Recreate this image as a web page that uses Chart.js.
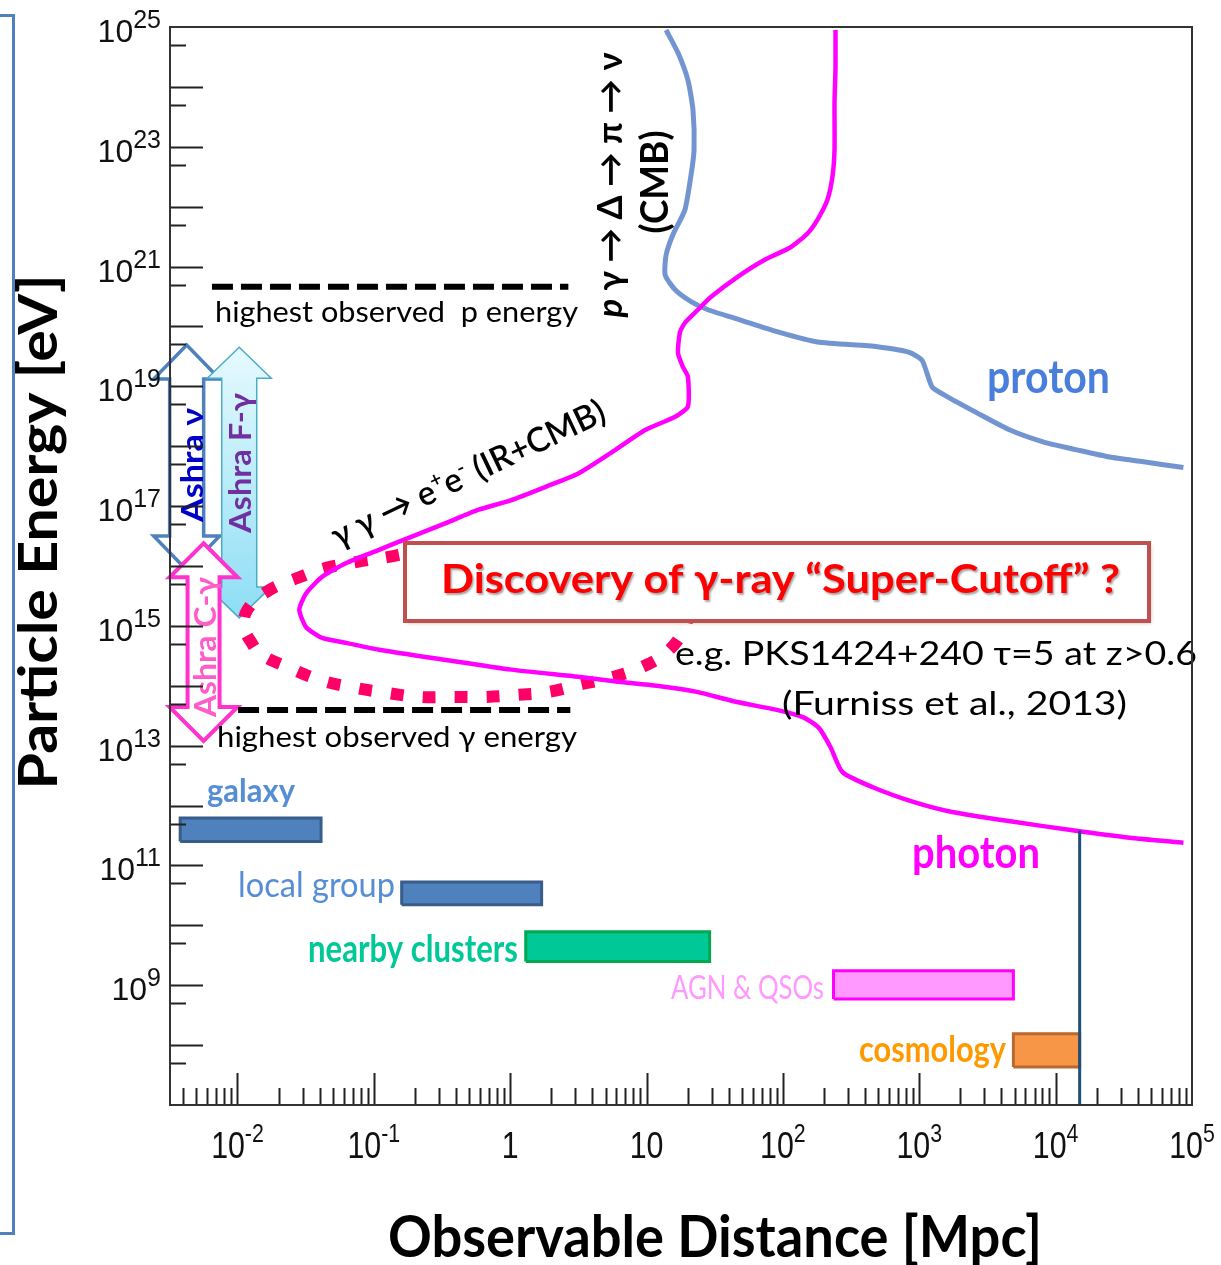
<!DOCTYPE html>
<html>
<head>
<meta charset="utf-8">
<script src="https://cdn.jsdelivr.net/npm/chart.js@4.4.1/dist/chart.umd.min.js"></script>
<style>
html, body { margin: 0; padding: 0; background: #fff; }
canvas { display: block; }
</style>
</head>
<body>
<canvas id="chart" width="1221" height="1265"></canvas>
<script>
// attenuation horizons (distance in Mpc, energy in eV)
const photonDist = [243, 243, 239, 239, 231, 212, 179, 152, 114, 73.6, 46.8, 29.6, 23.8, 19.1, 17.6, 17.0, 18.5, 20.1, 20.1, 16.2,
    9.77, 5.51, 3.16, 1.82, 1.02, 0.587, 0.337, 0.190, 0.109, 0.0627, 0.0418, 0.0319, 0.0284, 0.0319, 0.0418, 0.0627, 0.109, 0.337, 1.02, 3.16,
    6.19, 11.9, 23.4, 45.2, 88.5, 140, 183, 223, 274, 461, 904, 1740, 4790, 12900, 34800, 86500];
const photonEnergy = [8.9e24, 2.1e24, 5.4e23, 8.9e22, 3.2e22, 1.3e22, 6.0e21, 3.6e21, 2.1e21, 1.3e21, 6.8e20, 3.1e20, 1.9e20, 1.15e20, 8.1e19, 3.6e19, 2.1e19, 1.45e19, 4.6e18, 3.1e18,
    1.86e18, 7.8e17, 3.5e17, 2.1e17, 1.26e17, 8.7e16, 5.2e16, 3.1e16, 1.86e16, 1.12e16, 6.6e15, 3.5e15, 1.86e15, 9.5e14, 6.3e14, 5.2e14, 4.0e14, 2.7e14, 1.86e14, 1.41e14,
    1.17e14, 1.0e14, 7.9e13, 5.4e13, 4.0e13, 3.0e13, 2.0e13, 9.5e12, 3.6e12, 2.0e12, 1.15e12, 7.8e11, 5.4e11, 3.9e11, 2.9e11, 2.4e11];

const protonDist = [13.9, 17.0, 20.1, 21.9, 22.3, 21.2, 19.1, 15.6, 13.9, 13.7, 16.2, 21.2, 28.2, 48.3, 91.6, 179, 493, 845, 1050, 1240,
    1520, 2650, 4620, 8200, 14300, 24900, 44100, 86500];
const protonEnergy = [8.9e24, 3.7e24, 1.3e24, 4.1e23, 8.9e22, 3.4e22, 8.8e21, 3.4e21, 1.55e21, 7.2e20, 4.1e20, 2.6e20, 1.9e20, 1.29e20, 8.1e19, 5.5e19, 4.6e19, 3.7e19, 2.7e19, 9.8e18,
    7.2e18, 3.6e18, 1.86e18, 1.17e18, 8.7e17, 6.6e17, 5.5e17, 4.4e17];

// dotted "super-cutoff" loop
const cutoffDist = [0.153, 0.129, 0.0754, 0.0447, 0.0275, 0.0163, 0.0118, 0.0112, 0.0127, 0.0150, 0.0240, 0.0404, 0.0730,
    0.125, 0.218, 0.379, 0.640, 1.09, 1.91, 3.21, 5.42, 8.98, 14.2, 19.1, 20.1];
const cutoffEnergy = [1.53e16, 1.42e16, 1.17e16, 9.3e15, 6.3e15, 3.7e15, 1.85e15, 9.6e14, 5.2e14, 3.3e14, 2.0e14, 1.25e14, 9.2e13,
    7.6e13, 6.5e13, 6.5e13, 6.5e13, 7.0e13, 7.9e13, 1.04e14, 1.36e14, 2.0e14, 3.7e14, 9.3e14, 1.71e15];

// source classes
const barNames = ["galaxy", "local group", "nearby clusters", "AGN & QSOs", "cosmology"];
const barDistMin = [0.0038, 0.16, 1.3, 235, 4900];
const barDistMax = [0.041, 1.7, 29, 4900, 15000];
const barEnergyLow = [2.5e11, 2.2e10, 2.5e9, 5.9e8, 4.3e7];
const barEnergyHigh = [6.2e11, 5.3e10, 7.8e9, 1.74e9, 1.55e8];

// horizon marker
const horizonDist = 15000;
const horizonEnergy = [1e7, 3.8e11];

// highest observed energies
const limitEnergy = [4.6e20, 3.95e13];
const limitDistFrom = [0.0065, 0.0101];
const limitDistTo = [2.67, 2.76];

// Ashra ranges
const arrowNames = ["Ashra ν", "Ashra F-γ", "Ashra C-γ"];
const arrowDist = [0.00424, 0.0103, 0.00564];
const arrowTop = [4.9e19, 4.5e19, 2.4e16];
const arrowBottom = [8.6e15, 1.36e15, 1.2e13];

// tick labels
const yTickExp = [25, 23, 21, 19, 17, 15, 13, 11, 9];
const xTickValue = [0.01, 0.1, 1, 10, 100, 1000, 10000, 100000];
const xTickBase = ["10", "10", "1", "10", "10", "10", "10", "10"];
const xTickExp = ["-2", "-1", "", "", "2", "3", "4", "5"];

const barFill = ["#4F81BD", "#4F81BD", "#00C896", "#FF99FF", "#F79646"];
const barEdge = ["#385D8A", "#385D8A", "#00A850", "#FF00FF", "#B7692F"];

const FAMILY = "Lato, 'Noto Sans', 'DejaVu Sans', sans-serif";
const NUMFONT = "'Liberation Sans', Arial, sans-serif";
const DEG = Math.PI / 180;

function pairs(xs, ys) {
    return xs.map((x, i) => ({ x, y: ys[i] }));
}

function line(data, style) {
    return Object.assign({ data, showLine: true, pointRadius: 0, pointHoverRadius: 0, fill: false, tension: 0 }, style);
}

const datasets = [
    line(pairs(photonDist, photonEnergy), { label: "photon", borderColor: "#FF00FF", borderWidth: 4.5, tension: 0.2, order: 2 }),
    line(pairs(protonDist, protonEnergy), { label: "proton", borderColor: "#7295D2", borderWidth: 5, tension: 0.2, order: 3 }),
    line(pairs(cutoffDist, cutoffEnergy), { label: "super-cutoff", borderColor: "#FF0066", borderWidth: 12, borderDash: [13, 19], tension: 0.4, order: 5 }),
    line([{ x: horizonDist, y: horizonEnergy[0] }, { x: horizonDist, y: horizonEnergy[1] }], { label: "horizon", borderColor: "#1F4E79", borderWidth: 3, order: 1 })
];

limitEnergy.forEach((e, i) => {
    datasets.push(line([{ x: limitDistFrom[i], y: e }, { x: limitDistTo[i], y: e }],
        { label: "limit" + i, borderColor: "#000", borderWidth: 6, borderDash: [21, 8], order: 4 }));
});

barNames.forEach((name, i) => {
    const x1 = barDistMin[i], x2 = barDistMax[i], lo = barEnergyLow[i], hi = barEnergyHigh[i];
    datasets.push(line([{ x: x1, y: lo }, { x: x2, y: lo }, { x: x2, y: hi }, { x: x1, y: hi }, { x: x1, y: lo }], {
        label: name, borderColor: barEdge[i], backgroundColor: barFill[i], borderWidth: 3, fill: "shape", order: 6
    }));
});

// text helper: parts drawn in a row, squeezed to the measured width of the reference
function drawRich(ctx, parts, o) {
    if (typeof parts === "string") parts = [{ t: parts }];
    const fontFor = (p, size) => `${p.italic ? "italic " : ""}${p.weight || o.weight || "normal"} ${size}px ${o.family || FAMILY}`;
    const sizes = parts.map((p) => p.sup ? o.size * 0.62 : o.size);
    let natural = 0;
    parts.forEach((p, i) => {
        ctx.font = fontFor(p, sizes[i]);
        natural += ctx.measureText(p.t).width;
    });
    const sx = o.width ? o.width / natural : 1;
    ctx.save();
    ctx.translate(o.x, o.y);
    if (o.angle) ctx.rotate(o.angle);
    ctx.scale(sx, 1);
    ctx.fillStyle = o.color || "#000";
    ctx.textBaseline = "alphabetic";
    ctx.textAlign = "left";
    if (o.shadow) {
        ctx.shadowColor = o.shadow;
        ctx.shadowOffsetX = 1.5;
        ctx.shadowOffsetY = 1.5;
        ctx.shadowBlur = 2;
    }
    let cx = o.align === "left" ? 0 : o.align === "right" ? -natural : -natural / 2;
    parts.forEach((p, i) => {
        ctx.font = fontFor(p, sizes[i]);
        ctx.fillText(p.t, cx, p.sup ? -o.size * 0.38 : 0);
        cx += ctx.measureText(p.t).width;
    });
    ctx.restore();
}

const notes = [
    { parts: "Particle Energy [eV]", x: 57, y: 532, size: 53, weight: "bold", width: 515, angle: -90 * DEG },
    { parts: "Observable Distance [Mpc]", x: 715, y: 1257, size: 57, weight: "bold", width: 654 },
    { parts: "highest observed  p energy", x: 215, y: 322, size: 29, width: 363, align: "left" },
    { parts: "highest observed γ energy", x: 217, y: 747, size: 29, width: 360, align: "left" },
    { parts: "e.g. PKS1424+240 τ=5 at z>0.6", x: 675, y: 665, size: 33, width: 522, align: "left" },
    { parts: "(Furniss et al., 2013)", x: 782, y: 715, size: 33, width: 345, align: "left" },
    { parts: "proton", x: 987, y: 393, size: 45, weight: "bold", width: 123, align: "left", color: "#4A7EDC" },
    { parts: "photon", x: 912, y: 868, size: 44, weight: "bold", width: 128, align: "left", color: "#FF00FF" },
    { parts: "galaxy", x: 207, y: 802, size: 32, weight: "bold", width: 88, align: "left", color: "#558ED5" },
    { parts: "local group", x: 238, y: 897, size: 34, width: 157, align: "left", color: "#558ED5" },
    { parts: "nearby clusters", x: 308, y: 962, size: 38, weight: "bold", width: 210, align: "left", color: "#00C896" },
    { parts: "AGN & QSOs", x: 671, y: 999, size: 33, width: 153, align: "left", color: "#FF99FF" },
    { parts: "cosmology", x: 859, y: 1062, size: 37, weight: "bold", width: 147, align: "left", color: "#FF9900" },
    { parts: [{ t: "γ γ → e" }, { t: "+", sup: true }, { t: "e" }, { t: "-", sup: true }, { t: " (IR+CMB)" }],
        x: 473, y: 484, size: 34, weight: "600", width: 299, angle: -25.4 * DEG },
    { parts: [{ t: "p", italic: true }, { t: " γ → Δ → π → ν" }], x: 622, y: 185, size: 34, weight: "bold", width: 265, angle: -90 * DEG },
    { parts: "(CMB)", x: 668, y: 182, size: 38, weight: "bold", width: 103, angle: -90 * DEG }
];

const arrowNotes = [
    { x: 203, y: 465, size: 31, width: 114, color: "#0000C8" },
    { x: 251, y: 463, size: 31, width: 140, color: "#7030A0" },
    { x: 216, y: 647, size: 31, width: 140, color: "#FF5CC8" }
];
const arrowShape = [{ shaft: 17, head: 33, len: 34 }, { shaft: 17.5, head: 32, len: 31 }, { shaft: 16, head: 34, len: 34 }];
const arrowStroke = ["#4F81BD", "#4BACC6", "#FF33CC"];
const arrowLine = [3.5, 1.5, 4];

function drawArrows(chart) {
    const ctx = chart.ctx;
    const xs = chart.scales.x, ys = chart.scales.y;
    arrowNames.forEach((name, i) => {
        const cx = xs.getPixelForValue(arrowDist[i]);
        const top = ys.getPixelForValue(arrowTop[i]);
        const bot = ys.getPixelForValue(arrowBottom[i]);
        const s = arrowShape[i];
        ctx.save();
        ctx.beginPath();
        ctx.moveTo(cx, top);
        ctx.lineTo(cx + s.head, top + s.len);
        ctx.lineTo(cx + s.shaft, top + s.len);
        ctx.lineTo(cx + s.shaft, bot - s.len);
        ctx.lineTo(cx + s.head, bot - s.len);
        ctx.lineTo(cx, bot);
        ctx.lineTo(cx - s.head, bot - s.len);
        ctx.lineTo(cx - s.shaft, bot - s.len);
        ctx.lineTo(cx - s.shaft, top + s.len);
        ctx.lineTo(cx - s.head, top + s.len);
        ctx.closePath();
        if (i === 1) {
            const g = ctx.createLinearGradient(0, top, 0, bot);
            g.addColorStop(0, "#E6FAFE");
            g.addColorStop(1, "#8EDEF5");
            ctx.fillStyle = g;
        } else {
            ctx.fillStyle = "#fff";
        }
        ctx.fill();
        ctx.lineWidth = arrowLine[i];
        ctx.lineJoin = "miter";
        ctx.strokeStyle = arrowStroke[i];
        ctx.stroke();
        ctx.restore();
        const n = arrowNotes[i];
        drawRich(ctx, name, { x: n.x, y: n.y, size: n.size, weight: "bold", width: n.width, color: n.color, angle: -90 * DEG });
    });
}

function drawAxes(chart) {
    const ctx = chart.ctx;
    const xs = chart.scales.x, ys = chart.scales.y;
    const a = chart.chartArea;
    ctx.save();
    ctx.strokeStyle = "#222";
    ctx.lineWidth = 2;
    ctx.beginPath();
    // y ticks: decades long, 5x short
    for (let e = 7; e <= 25; e++) {
        if (e > 7 && e < 25) {
            const y = Math.round(ys.getPixelForValue(Math.pow(10, e))) + 0.5;
            ctx.moveTo(a.left, y);
            ctx.lineTo(a.left + 33, y);
        }
        if (e < 25) {
            const y = Math.round(ys.getPixelForValue(5 * Math.pow(10, e))) + 0.5;
            ctx.moveTo(a.left, y);
            ctx.lineTo(a.left + 16, y);
        }
    }
    // x ticks
    for (let d = -3; d <= 4; d++) {
        for (let m = 1; m <= 9; m++) {
            const v = m * Math.pow(10, d);
            if (v <= xs.min || v >= xs.max) continue;
            const x = Math.round(xs.getPixelForValue(v)) + 0.5;
            ctx.moveTo(x, a.bottom);
            ctx.lineTo(x, a.bottom - (m === 1 ? 32 : 17));
        }
    }
    ctx.stroke();
    ctx.strokeStyle = "#333";
    ctx.strokeRect(a.left, a.top, a.right - a.left, a.bottom - a.top);
    ctx.restore();

    // tick labels
    ctx.save();
    ctx.fillStyle = "#111";
    ctx.textBaseline = "alphabetic";
    ctx.textAlign = "left";
    yTickExp.forEach((e) => {
        const y = ys.getPixelForValue(Math.pow(10, e));
        const sup = String(e);
        ctx.font = `25px ${NUMFONT}`;
        const sw = ctx.measureText(sup).width;
        ctx.font = `32px ${NUMFONT}`;
        const mw = ctx.measureText("10").width;
        const right = 161;
        ctx.fillText("10", right - sw - mw, y + 15);
        ctx.font = `25px ${NUMFONT}`;
        ctx.fillText(sup, right - sw, y + 1);
    });
    xTickValue.forEach((v, i) => {
        const x = xs.getPixelForValue(v);
        const k = 0.82;
        ctx.font = `37px ${NUMFONT}`;
        const mw = ctx.measureText(xTickBase[i]).width * k;
        ctx.font = `26px ${NUMFONT}`;
        const sw = xTickExp[i] ? ctx.measureText(xTickExp[i]).width * k : 0;
        const left = x - (mw + sw) / 2;
        ctx.save();
        ctx.translate(left, 0);
        ctx.scale(k, 1);
        ctx.font = `37px ${NUMFONT}`;
        ctx.fillText(xTickBase[i], 0, 1158);
        if (xTickExp[i]) {
            ctx.font = `26px ${NUMFONT}`;
            ctx.fillText(xTickExp[i], mw / k, 1142);
        }
        ctx.restore();
    });
    ctx.restore();
}

const decorations = {
    id: "decorations",
    beforeDatasetsDraw(chart) {
        drawArrows(chart);
    },
    afterDatasetsDraw(chart) {
        const ctx = chart.ctx;
        // call-out box
        ctx.save();
        ctx.shadowColor = "rgba(0,0,0,0.25)";
        ctx.shadowBlur = 4;
        ctx.shadowOffsetX = 2;
        ctx.shadowOffsetY = 2;
        ctx.fillStyle = "#fff";
        ctx.fillRect(405, 543, 744, 78);
        ctx.shadowColor = "transparent";
        ctx.lineWidth = 4;
        ctx.strokeStyle = "#C0504D";
        ctx.strokeRect(405, 543, 744, 78);
        ctx.restore();
        drawRich(ctx, "Discovery of γ-ray “Super-Cutoff” ?", {
            x: 441, y: 593, size: 41, weight: "bold", width: 679, align: "left", color: "#FF0000", shadow: "rgba(0,0,0,0.35)"
        });

        notes.forEach((n) => drawRich(ctx, n.parts, n));
        drawAxes(chart);

        // blue bracket on the left edge
        ctx.save();
        ctx.strokeStyle = "#4F81BD";
        ctx.lineWidth = 3;
        ctx.beginPath();
        ctx.moveTo(0, 15.5);
        ctx.lineTo(13.5, 15.5);
        ctx.lineTo(13.5, 1233.5);
        ctx.lineTo(0, 1233.5);
        ctx.stroke();
        ctx.restore();
    }
};

new Chart(document.getElementById("chart"), {
    type: "scatter",
    data: { datasets },
    options: {
        responsive: false,
        devicePixelRatio: 1,
        animation: false,
        events: [],
        layout: { padding: { left: 170, top: 27, right: 29, bottom: 160 } },
        plugins: { legend: { display: false }, tooltip: { enabled: false } },
        scales: {
            x: { type: "logarithmic", min: 0.0032, max: 1e5, display: false },
            y: { type: "logarithmic", min: 1e7, max: 1e25, display: false }
        }
    },
    plugins: [decorations]
});
</script>
</body>
</html>
